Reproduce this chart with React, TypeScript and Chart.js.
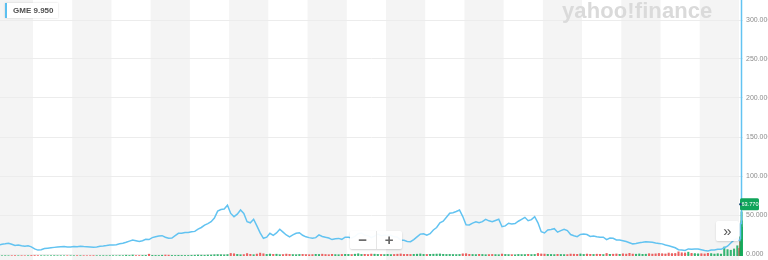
import React, { useEffect, useRef } from 'react';
import { Chart, registerables } from 'chart.js';

Chart.register(...registerables);

// ---------------- data ----------------
const ticker = 'GME';
const headerPrice = '9.950';
const lastPriceLabel = 63.77;
const yTicks = [0, 50, 100, 150, 200, 250, 300];
const firstYear = 2002;
const firstMonth = 2; // monthly series starts Feb 2002
const greyBandYears = [2002, 2004, 2006, 2008, 2010, 2012, 2014, 2016, 2018, 2020];

// monthly closing prices (split adjusted), Feb 2002 .. Dec 2020
const monthlyClose = [
  11.5, 12.5, 13, 13.8, 12.5, 11, 11.5, 10.5, 10, 10.5, 9.2, // 2002
  6.5, 5, 5.5, 7, 7.5, 8, 8.5, 9, 9.4, 9.5, 9, 9, // 2003
  9.5, 9.4, 10, 9.5, 9.3, 9, 8.6, 9, 9.8, 10.2, 10.8, 11.5, // 2004
  11.5, 12, 13, 13.7, 15, 16.5, 18, 17, 16, 17, 18.8, 18.5, // 2005
  21, 22.2, 23, 23.5, 21.5, 20.1, 20.5, 23.5, 26.5, 26.5, 27.5, 27.5, // 2006
  28.6, 29, 32, 34, 37, 39, 41.4, 46, 55, 57, 57.7, 62.5, // 2007
  52, 47.8, 51, 56.4, 52, 41.4, 40, 44.5, 36, 27, 20.1, 21.5, // 2008
  26.5, 24, 27, 31.7, 28, 24.4, 22, 24.5, 26.5, 27.3, 24, 22, // 2009
  21, 20.1, 21, 24.5, 22.5, 21.4, 20.5, 18.5, 19.5, 20, 18.8, 21.5, // 2010
  21.5, 20.5, 22.5, 26, 27, 24, 23.5, 21, 23, 25.5, 23.5, 24, // 2011
  24, 24, 22, 21.5, 18, 17.5, 16, 15.8, 18.5, 22, 25.5, 26, // 2012
  24, 26, 30.8, 34, 40.1, 42, 47, 52.2, 53, 54.5, 56.4, 48, // 2013
  37.5, 37.2, 39.5, 41.4, 40, 41.5, 44.5, 42.5, 41.4, 43, 44.5, 35, // 2014
  36, 39.4, 38.5, 39, 42, 44.5, 47, 42.7, 44, 47.8, 40, 28.6, // 2015
  27, 30.8, 31.5, 32.5, 28, 30, 31.7, 30, 25, 23.5, 22.2, 25, // 2016
  25.5, 25, 22.5, 23, 22.2, 21.5, 21.5, 18.5, 20.5, 20.1, 18, 18, // 2017
  17, 16, 14.5, 13, 13.5, 14.5, 15, 15.8, 15.5, 15, 14, 13.5, // 2018
  13, 11.5, 10.5, 9.4, 8, 5.5, 5.1, 4.5, 6.5, 6, 6.5, 6.5, // 2019
  5.5, 4.5, 4, 5, 5, 6, 6, 8, 10, 14, 18, 20, // 2020
];

// monthly volume (scaled units)
const monthlyVolume = [
  0.6, 0.4, 0.5, 0.4, 0.5, 0.6, 0.4, 0.5, 0.4, 0.5, 0.8,
  0.8, 0.6, 0.5, 0.5, 0.4, 0.5, 0.6, 0.5, 0.5, 0.4, 0.5, 0.5,
  0.5, 0.6, 0.5, 0.5, 0.4, 0.5, 0.6, 0.5, 0.5, 0.6, 0.5, 0.6,
  0.6, 0.5, 0.7, 0.6, 1.2, 0.8, 1.5, 0.7, 0.8, 0.9, 1.0, 2.8,
  1, 0.9, 0.8, 1.2, 1.5, 1.3, 0.9, 0.8, 1, 0.9, 0.8, 0.9,
  1, 1.2, 1.5, 1.3, 1.2, 1.5, 1.6, 2.0, 2.2, 2.0, 1.8, 2.2,
  4.0, 3.5, 2.5, 2.0, 2.2, 3.8, 2.6, 2.0, 3.0, 4.5, 3.5, 2.5,
  3, 2.5, 2.8, 2, 2.2, 3, 2.5, 2.2, 2, 2.4, 2.5, 2.2,
  2, 2.2, 2.6, 2.4, 2.8, 2.3, 2, 2.6, 2.2, 2, 2.4, 2.6,
  2.5, 2.2, 2.8, 3.5, 2.4, 2.6, 2.2, 3, 2.8, 2.5, 2.4, 2.2,
  2.6, 2.2, 2.4, 2.8, 3.2, 2.5, 2.6, 2.4, 2.6, 2.8, 3.2, 2.5,
  2.4, 2.6, 2.8, 3.0, 3.2, 2.6, 2.4, 2.5, 2.3, 2.2, 2.4, 3.4,
  3.6, 2.6, 2.4, 2.2, 2.6, 2.4, 2.0, 2.2, 2.4, 2.2, 2.0, 3.0,
  2.4, 2.2, 2.0, 1.8, 2.4, 2.2, 2.2, 2.6, 2.2, 2.4, 4.0, 3.2,
  3, 2.6, 2.4, 2.2, 2.6, 2.4, 2.2, 2.2, 3, 2.8, 2.6, 3.2,
  2.4, 3, 2.6, 2.4, 2.8, 2.6, 2.2, 4.0, 2.6, 2.8, 3.2, 2.6,
  3.4, 3.0, 4.2, 3.0, 2.8, 3.2, 2.6, 2.8, 3.6, 3.0, 3.4, 4.0,
  3.6, 3.2, 4.6, 3.8, 4.0, 6.5, 5.0, 4.8, 6.0, 4.2, 3.8, 3.4,
  3.6, 3.2, 4.2, 3.8, 3.0, 3.6, 3.0, 14, 10, 9, 11, 16,
];

// January 2021 daily closes
const lateDates = ['2021-01-04', '2021-01-08', '2021-01-12', '2021-01-13', '2021-01-14', '2021-01-15', '2021-01-19', '2021-01-20', '2021-01-21', '2021-01-22', '2021-01-25', '2021-01-26', '2021-01-27'];
const lateClose = [17.25, 17.7, 19.9, 31.4, 39.9, 35.5, 39.4, 39.1, 43.0, 65.0, 76.8, 148.0, 347.5];
const lateVolume = [12, 8, 10, 30, 25, 28, 14, 10, 12, 40, 69, 55, 45];

// ---------------- layout constants ----------------
const W = 768;
const H = 260;
const PX_PER_YEAR = 39.22;
const X_MIN = 2003 - 33 / PX_PER_YEAR;
const AXIS_W = 25;
const X_MAX = X_MIN + (W - AXIS_W) / PX_PER_YEAR;
const Y_MIN = -2 / 0.78;
const Y_MAX = 300 + 20 / 0.78;

const LINE_COLOR = '#62c3f1';
const UP = 'rgba(20,170,90,0.85)';
const DOWN = 'rgba(235,70,70,0.85)';

function monthX(i: number) {
  const total = firstYear * 12 + (firstMonth - 1) + i;
  const yr = Math.floor(total / 12);
  const m = total % 12;
  return yr + (m + 0.5) / 12;
}
function dateX(s: string) {
  const [y, m, d] = s.split('-').map(Number);
  const start = Date.UTC(y, 0, 1);
  const t = Date.UTC(y, m - 1, d);
  return y + ((t - start) / 86400000 + 0.5) / 365;
}

export default function App() {
  const ref = useRef<HTMLCanvasElement | null>(null);

  useEffect(() => {
    if (!ref.current) return;
    const xs = [...monthlyClose.map((_, i) => monthX(i)), ...lateDates.map(dateX)];
    const closes = [...monthlyClose, ...lateClose];
    const vols = [...monthlyVolume, ...lateVolume];
    const pricePts = xs.map((x, i) => ({ x, y: closes[i] }));
    const volPts = xs.map((x, i) => ({ x, y: vols[i] }));
    const volColors = closes.map((c, i) => (i === 0 || c >= closes[i - 1] ? UP : DOWN));

    const bandsPlugin = {
      id: 'bands',
      beforeDraw(chart: any) {
        const { ctx, chartArea, scales } = chart;
        ctx.save();
        ctx.fillStyle = '#ffffff';
        ctx.fillRect(0, 0, chart.width, chart.height);
        ctx.fillStyle = '#f4f4f4';
        for (const yr of greyBandYears) {
          let x0 = scales.x.getPixelForValue(yr);
          let x1 = scales.x.getPixelForValue(yr + 1);
          x0 = Math.max(x0, chartArea.left);
          x1 = Math.min(x1, chartArea.right);
          if (x1 > x0) ctx.fillRect(x0, 0, x1 - x0, chart.height);
        }
        ctx.restore();
      },
    };

    const lastLabelPlugin = {
      id: 'lastLabel',
      afterDatasetsDraw(chart: any) {
        const { ctx, chartArea, scales } = chart;
        const y = scales.y.getPixelForValue(lastPriceLabel);
        const x0 = chartArea.right - 3;
        ctx.save();
        ctx.fillStyle = '#10a45a';
        ctx.beginPath();
        (ctx as any).roundRect ? (ctx as any).roundRect(x0, y - 6, 19, 12, 1.5) : ctx.rect(x0, y - 6, 19, 12);
        ctx.fill();
        ctx.fillStyle = '#ffffff';
        ctx.font = '5.6px "Liberation Sans", Arial, sans-serif';
        ctx.textAlign = 'center';
        ctx.textBaseline = 'middle';
        ctx.fillText(lastPriceLabel.toFixed(3), x0 + 10, y + 0.5);
        ctx.fillStyle = '#1d4f7a';
        ctx.beginPath();
        ctx.arc(x0 + 0.5, y, 1.3, 0, Math.PI * 2);
        ctx.fill();
        ctx.restore();
      },
    };

    const chart = new Chart(ref.current, {
      type: 'line',
      data: {
        datasets: [
          {
            type: 'line',
            label: ticker,
            data: pricePts,
            borderColor: LINE_COLOR,
            borderWidth: 1.5,
            pointRadius: 0,
            tension: 0,
            yAxisID: 'y',
            order: 0,
          } as any,
          {
            type: 'bar',
            label: 'Volume',
            data: volPts,
            backgroundColor: volColors,
            barThickness: 1.4,
            yAxisID: 'yv',
            order: 1,
          } as any,
        ],
      },
      options: {
        animation: false,
        responsive: false,
        devicePixelRatio: 1,
        events: [],
        layout: { padding: { left: 0, right: 0, top: 0, bottom: 4 } },
        plugins: { legend: { display: false }, tooltip: { enabled: false } },
        scales: {
          x: { type: 'linear', display: false, offset: false, grid: { offset: false }, min: X_MIN, max: X_MAX },
          y: {
            type: 'linear',
            position: 'right',
            min: Y_MIN,
            max: Y_MAX,
            afterBuildTicks: (s: any) => {
              s.ticks = yTicks.map((v) => ({ value: v }));
            },
            afterFit: (s: any) => {
              s.width = AXIS_W;
              s.paddingTop = 0;
              s.paddingBottom = 0;
            },
            grid: { color: '#ececec', lineWidth: 1, drawTicks: false },
            border: { display: false },
            ticks: {
              color: '#8c8c8c',
              padding: 3,
              autoSkip: false,
              font: { size: 7, family: '"Liberation Sans", Arial, sans-serif' },
              callback: (v: any) => Number(v).toFixed(3),
            },
          },
          yv: { type: 'linear', display: false, min: 0, max: 400, position: 'left' },
        },
      },
      plugins: [bandsPlugin, lastLabelPlugin],
    } as any);
    return () => chart.destroy();
  }, []);

  return (
    <div style={{ position: 'fixed', left: 0, top: 0, width: W, height: H, overflow: 'hidden', background: '#fff', fontFamily: '"Liberation Sans", Arial, sans-serif' }}>
      <canvas ref={ref} width={W} height={H} style={{ display: 'block', width: W, height: H }} />
      <div style={{ position: 'absolute', left: 562, top: 0, fontSize: 22, lineHeight: '22px', fontWeight: 700, color: '#dadada', letterSpacing: '0.1px', whiteSpace: 'nowrap', pointerEvents: 'none' }}>
        yahoo!finance
      </div>
      <div style={{ position: 'absolute', left: 5, top: 3, height: 15, paddingLeft: 6, paddingRight: 4, background: '#fff', borderLeft: '2px solid #5bc0f0', boxShadow: '0 0 2px rgba(0,0,0,0.15)', fontSize: 8, lineHeight: '15px', fontWeight: 700, color: '#505050', whiteSpace: 'nowrap' }}>
        {ticker} {headerPrice}
      </div>
      <div style={{ position: 'absolute', left: 350, top: 231, width: 52, height: 18, display: 'flex', background: 'rgba(255,255,255,0.95)', borderRadius: 2, boxShadow: '0 1px 2px rgba(0,0,0,0.18)' }}>
        <div style={{ flex: 1, textAlign: 'center', fontSize: 15, lineHeight: '18px', fontWeight: 700, color: '#666', borderRight: '1px solid #e6e6e6' }}>−</div>
        <div style={{ flex: 1, textAlign: 'center', fontSize: 15, lineHeight: '18px', fontWeight: 700, color: '#666' }}>+</div>
      </div>
      <div style={{ position: 'absolute', left: 716, top: 221, width: 23, height: 20, background: 'rgba(255,255,255,0.95)', borderRadius: 2, boxShadow: '0 1px 2px rgba(0,0,0,0.15)', textAlign: 'center', fontSize: 15, lineHeight: '19px', color: '#555' }}>
        »
      </div>
    </div>
  );
}
